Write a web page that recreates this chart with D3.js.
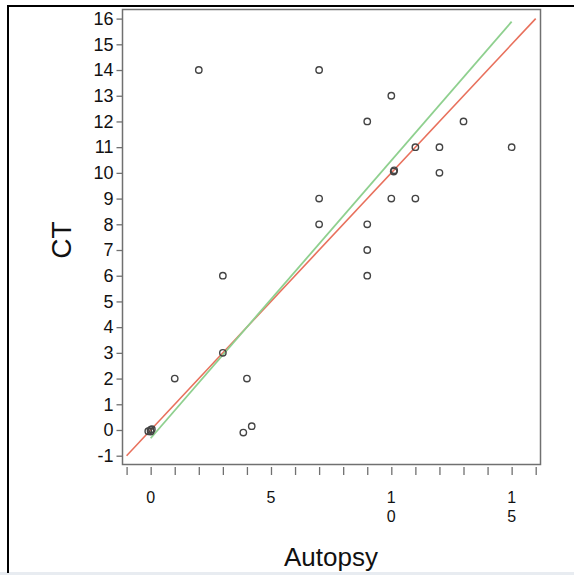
<!DOCTYPE html>
<html>
<head>
<meta charset="utf-8">
<script src="https://d3js.org/d3.v7.min.js"></script>
<style>
  html, body { margin: 0; padding: 0; background: #fff; }
  svg { display: block; }
  text { font-family: "Liberation Sans", Arial, Helvetica, sans-serif; fill: #111; }
</style>
</head>
<body>
<script>
// Autopsy vs CT scores, one entry per case (small offsets separate coincident cases)
const autopsy = [-0.1, 0, 0.05, 0, 1, 2, 3, 3, 4, 3.85, 4.2, 7, 7, 7, 9, 9, 9, 9, 10, 10.1, 10.12, 10, 11, 11, 12, 12, 13, 15];
const ct      = [-0.05, 0, 0.03, -0.06, 2, 14, 6, 3, 2, -0.1, 0.15, 14, 9, 8, 12, 8, 7, 6, 13, 10.05, 10.1, 9, 11, 9, 11, 10, 12, 11];

// Line of identity and the fitted regression line
const identityRange = [-1, 16];
const fitSlope = 1.08;
const fitIntercept = -0.32;
const fitRange = [0, 15];

const yTicks = d3.range(-1, 17);
const xTicks = d3.range(-1, 17);
const xLabelled = [0, 5, 10, 15];

const W = 574, H = 575;
const svg = d3.select("body").append("svg").attr("width", W).attr("height", H);

// outer figure border
svg.append("rect").attr("x", 0).attr("y", 572).attr("width", W).attr("height", 3).attr("fill", "#e8ecf1");
svg.append("line").attr("x1", 7).attr("x2", W).attr("y1", 6).attr("y2", 6).attr("stroke", "#000").attr("stroke-width", 2);
svg.append("line").attr("x1", 8).attr("x2", 8).attr("y1", 6).attr("y2", 573).attr("stroke", "#000").attr("stroke-width", 2);

const x = d3.scaleLinear().domain([-1, 16]).range([126.6, 535.7]);
const y = d3.scaleLinear().domain([-1, 16]).range([455.7, 18.6]);

const frame = { left: 122.5, right: 540.5, top: 9.5, bottom: 464.5 };

// plot frame
svg.append("rect")
  .attr("x", frame.left).attr("y", frame.top)
  .attr("width", frame.right - frame.left).attr("height", frame.bottom - frame.top)
  .attr("fill", "none").attr("stroke", "#707070").attr("stroke-width", 1.5);

// y axis
const yAxis = svg.append("g")
  .attr("transform", `translate(${frame.left},0)`)
  .call(d3.axisLeft(y).tickValues(yTicks).tickSize(6).tickPadding(3).tickFormat(d => String(d)));
yAxis.select(".domain").remove();
yAxis.selectAll(".tick line").attr("stroke", "#707070").attr("stroke-width", 1.3);
yAxis.selectAll(".tick text").style("font-size", "18px").attr("fill", "#111");

// x axis: ticks at every unit, labels at multiples of 5 stacked one digit per line
const xAxis = svg.append("g")
  .attr("transform", `translate(0,${frame.bottom + 2.5})`)
  .call(d3.axisBottom(x).tickValues(xTicks).tickSize(8).tickFormat(""));
xAxis.select(".domain").remove();
xAxis.selectAll(".tick line").attr("stroke", "#707070").attr("stroke-width", 1.3);

const digits = xLabelled.flatMap(v => String(v).split("").map((ch, i) => ({ v, ch, i })));
svg.append("g").selectAll("text").data(digits).join("text")
  .attr("x", d => x(d.v))
  .attr("y", d => 503 + d.i * 18.6)
  .attr("text-anchor", "middle")
  .style("font-size", "16px")
  .text(d => d.ch);

// identity line
svg.append("line")
  .attr("x1", x(identityRange[0])).attr("y1", y(identityRange[0]))
  .attr("x2", x(identityRange[1])).attr("y2", y(identityRange[1]))
  .attr("stroke", "#e8705c").attr("stroke-width", 1.6);

// regression line
svg.append("line")
  .attr("x1", x(fitRange[0])).attr("y1", y(fitIntercept + fitSlope * fitRange[0]))
  .attr("x2", x(fitRange[1])).attr("y2", y(fitIntercept + fitSlope * fitRange[1]))
  .attr("stroke", "#8fd08f").attr("stroke-width", 1.8);

// case markers
svg.append("g").selectAll("circle").data(autopsy.map((a, i) => [a, ct[i]])).join("circle")
  .attr("cx", d => x(d[0])).attr("cy", d => y(d[1]))
  .attr("r", 3.2)
  .attr("fill", "none").attr("stroke", "#444").attr("stroke-width", 1.4);

// axis titles
svg.append("text").attr("x", 331).attr("y", 566).attr("text-anchor", "middle")
  .style("font-size", "26px").text("Autopsy");
svg.append("text").attr("transform", "translate(71,240) rotate(-90)").attr("text-anchor", "middle")
  .style("font-size", "28px").text("CT");
</script>
</body>
</html>
